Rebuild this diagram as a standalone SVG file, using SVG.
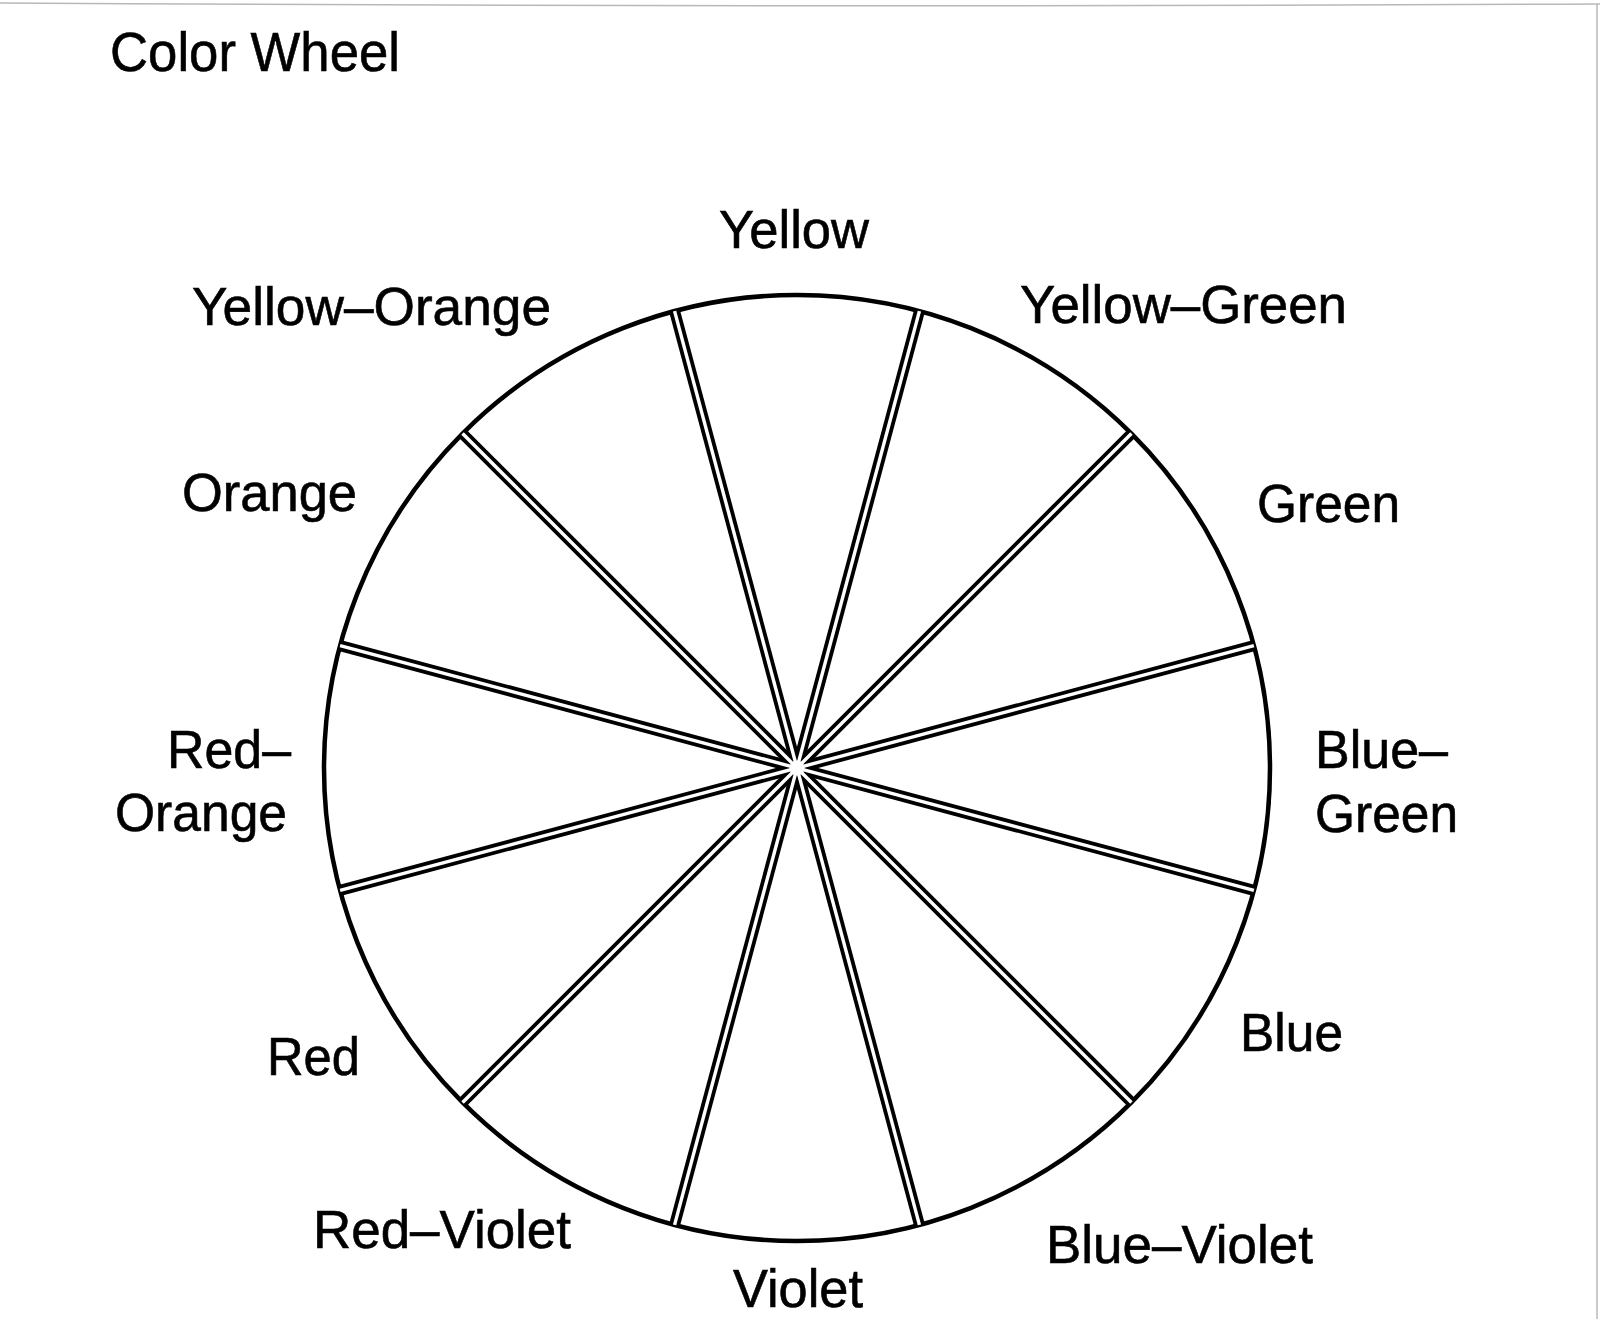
<svg xmlns="http://www.w3.org/2000/svg" xmlns:xlink="http://www.w3.org/1999/xlink" width="1600" height="1319" viewBox="0 0 1600 1319">
  <style>
    .lbl { font-family: "Liberation Sans", Arial, sans-serif; font-size: 53px; fill: #000; stroke: #000; stroke-width: 0.6; }
    .title { font-family: "Liberation Sans", Arial, sans-serif; font-size: 55px; fill: #000; stroke: #000; stroke-width: 0.6; }
    .rim { fill: #fff; stroke: #000; stroke-width: 4.5; }
    .spk-b { stroke: #000; stroke-width: 11; fill: none; }
    .spk-w { stroke: #fff; stroke-width: 3.4; fill: none; }
    .edge { stroke: #b8b8b8; stroke-width: 1.5; fill: none; }
  </style>
  <defs>
    <line id="diam" x1="797" y1="295" x2="797" y2="1241"/>
  </defs>
  <rect x="0" y="0" width="1600" height="1319" fill="#fff"/>
  <g id="scan-edges">
    <path class="edge" d="M0,3 Q800,8 1600,4"/>
    <path class="edge" d="M1597,4 L1597,1319"/>
  </g>

  <g id="title"><text class="title" x="110" y="71" textLength="290" lengthAdjust="spacingAndGlyphs">Color Wheel</text></g>

  <g id="wheel">
    <circle class="rim" cx="797" cy="768" r="473"/>
  </g>

  <g id="connectors">
    <g class="spk-b">
      <use xlink:href="#diam" transform="rotate(15 797 768)"/>
      <use xlink:href="#diam" transform="rotate(45 797 768)"/>
      <use xlink:href="#diam" transform="rotate(75 797 768)"/>
      <use xlink:href="#diam" transform="rotate(105 797 768)"/>
      <use xlink:href="#diam" transform="rotate(135 797 768)"/>
      <use xlink:href="#diam" transform="rotate(165 797 768)"/>
    </g>
    <g class="spk-w">
      <use xlink:href="#diam" transform="rotate(15 797 768)"/>
      <use xlink:href="#diam" transform="rotate(45 797 768)"/>
      <use xlink:href="#diam" transform="rotate(75 797 768)"/>
      <use xlink:href="#diam" transform="rotate(105 797 768)"/>
      <use xlink:href="#diam" transform="rotate(135 797 768)"/>
      <use xlink:href="#diam" transform="rotate(165 797 768)"/>
    </g>
    <circle cx="797" cy="768" r="7.5" fill="#fff"/>
  </g>

  <g id="label-yellow"><text class="lbl" x="719" y="248" textLength="150" lengthAdjust="spacingAndGlyphs">Yellow</text></g>
  <g id="label-yellow-orange"><text class="lbl" x="192" y="325" textLength="359" lengthAdjust="spacingAndGlyphs">Yellow–Orange</text></g>
  <g id="label-yellow-green"><text class="lbl" x="1020" y="323" textLength="327" lengthAdjust="spacingAndGlyphs">Yellow–Green</text></g>
  <g id="label-orange"><text class="lbl" x="182" y="511" textLength="175" lengthAdjust="spacingAndGlyphs">Orange</text></g>
  <g id="label-green"><text class="lbl" x="1257" y="522" textLength="143" lengthAdjust="spacingAndGlyphs">Green</text></g>
  <g id="label-red-orange">
    <text class="lbl" x="167" y="768" textLength="124" lengthAdjust="spacingAndGlyphs">Red–</text>
    <text class="lbl" x="115" y="831" textLength="172" lengthAdjust="spacingAndGlyphs">Orange</text>
  </g>
  <g id="label-blue-green">
    <text class="lbl" x="1315" y="768" textLength="133" lengthAdjust="spacingAndGlyphs">Blue–</text>
    <text class="lbl" x="1315" y="832" textLength="143" lengthAdjust="spacingAndGlyphs">Green</text>
  </g>
  <g id="label-red"><text class="lbl" x="267" y="1075" textLength="93" lengthAdjust="spacingAndGlyphs">Red</text></g>
  <g id="label-blue"><text class="lbl" x="1240" y="1051" textLength="103" lengthAdjust="spacingAndGlyphs">Blue</text></g>
  <g id="label-red-violet"><text class="lbl" x="313" y="1248" textLength="258" lengthAdjust="spacingAndGlyphs">Red–Violet</text></g>
  <g id="label-blue-violet"><text class="lbl" x="1046" y="1263" textLength="267" lengthAdjust="spacingAndGlyphs">Blue–Violet</text></g>
  <g id="label-violet"><text class="lbl" x="733" y="1307" textLength="130" lengthAdjust="spacingAndGlyphs">Violet</text></g>
</svg>
